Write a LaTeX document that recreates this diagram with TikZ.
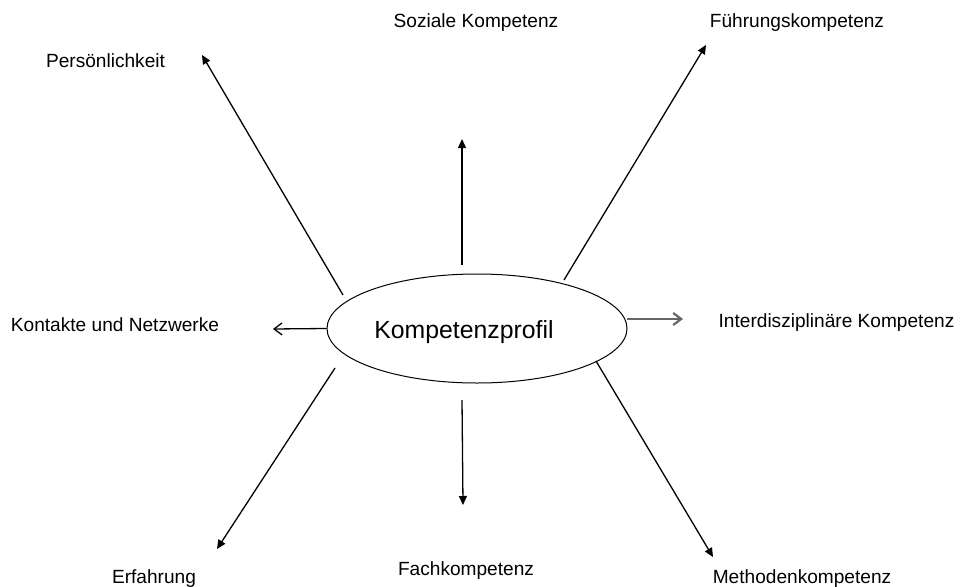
\documentclass[tikz,border=0pt]{standalone}
\usepackage{fontspec}
\setmainfont{Liberation Sans}
\usetikzlibrary{arrows.meta,shapes.geometric}
\tikzset{
  lbl/.style={anchor=base,inner sep=0pt,font=\fontsize{19.1}{21}\selectfont},
  arr/.style={line width=1.3pt,-{Triangle[length=9pt,width=8pt]}},
  openarr/.style={line width=1.3pt,-{Straight Barb[length=8pt,width=12pt]}},
  greyarr/.style={line width=2.2pt,draw=black!60,-{Straight Barb[length=8pt,width=12pt]}}
}
\begin{document}
\begin{tikzpicture}[x=1pt,y=-1pt]
\useasboundingbox (0,0) rectangle (960,586);
\node[ellipse,draw,line width=1pt,minimum width=300pt,minimum height=109pt,inner sep=0pt] (c) at (477,328.5) {};
\node[lbl,font=\fontsize{24.8}{26}\selectfont] (ct) at (464,338) {Kompetenzprofil};
% labels
\node[lbl] (pers) at (105.5,67) {Persönlichkeit};
\node[lbl] (soz) at (476,28) {Soziale Kompetenz};
\node[lbl] (fuehr) at (797,28) {Führungskompetenz};
\node[lbl] (kont) at (115,331) {Kontakte und Netzwerke};
\node[lbl] (inter) at (836.5,327) {Interdisziplinäre Kompetenz};
\node[lbl] (erf) at (154,583) {Erfahrung};
\node[lbl] (fach) at (466,575) {Fachkompetenz};
\node[lbl] (meth) at (802,583) {Methodenkompetenz};
% arrow end points
\coordinate (sPers) at (343,295);  \coordinate (tPers) at (202,55);
\coordinate (sSoz) at (462,265);   \coordinate (tSoz) at (462,139);
\coordinate (sFuehr) at (564,280); \coordinate (tFuehr) at (706,45);
\coordinate (sKont) at (c.west);   \coordinate (tKont) at (273,329);
\coordinate (sInter) at (627,319); \coordinate (tInter) at (683,319);
\coordinate (sErf) at (335,368);   \coordinate (tErf) at (217,549);
\coordinate (sFach) at (462,400);  \coordinate (tFach) at (463,505);
\coordinate (sMeth) at (596,361);  \coordinate (tMeth) at (713,557);
\draw[arr] (sPers) -- (tPers);
\draw[arr] (sSoz) -- (tSoz);
\draw[arr] (sFuehr) -- (tFuehr);
\draw[openarr] (sKont) -- (tKont);
\draw[greyarr] (sInter) -- (tInter);
\draw[arr] (sErf) -- (tErf);
\draw[arr] (sFach) -- (tFach);
\draw[arr] (sMeth) -- (tMeth);
\end{tikzpicture}
\end{document}
